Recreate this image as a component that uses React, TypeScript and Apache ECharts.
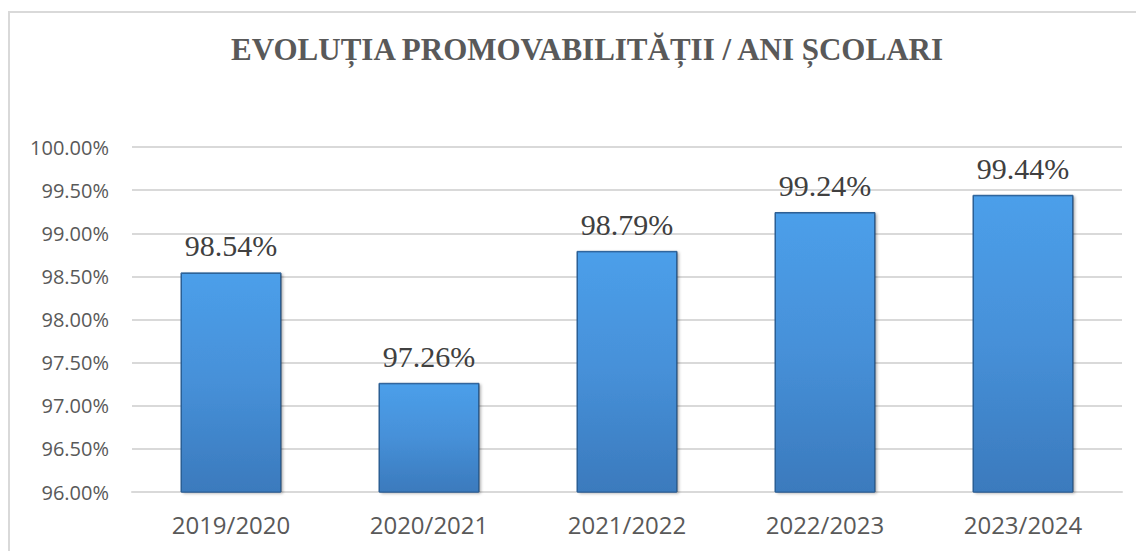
import React, { useEffect, useRef } from "react";
import * as echarts from "echarts";

const categories = ["2019/2020", "2020/2021", "2021/2022", "2022/2023", "2023/2024"];
const values = [98.54, 97.26, 98.79, 99.24, 99.44];
const titleText = "EVOLUȚIA PROMOVABILITĂȚII / ANI ȘCOLARI";
const axisMin = 96;
const axisMax = 100;

export default function App() {
  const ref = useRef<HTMLDivElement>(null);
  useEffect(() => {
    if (!ref.current) return;
    const chart = echarts.init(ref.current, null, { renderer: "svg" });
    const barW = 100;
    const bev = 6;
    chart.setOption({
      animation: false,
      backgroundColor: "#ffffff",
      title: {
        text: titleText,
        left: 582,
        textAlign: "center",
        top: 29,
        textStyle: {
          fontFamily: "Liberation Serif",
          fontWeight: "bold",
          fontSize: 31,
          color: "#595959",
        },
      },
      graphic: [
        {
          type: "rect",
          shape: { x: 9, y: 12, width: 1300, height: 700 },
          style: { fill: "none", stroke: "#d9d9d9", lineWidth: 2 },
          silent: true,
        },
      ],
      grid: { left: 132, right: 14, top: 147, bottom: 59 },
      xAxis: {
        type: "category",
        data: categories,
        axisLine: { lineStyle: { color: "#d9d9d9", width: 2 } },
        axisTick: { show: false },
        axisLabel: {
          margin: 20,
          fontFamily: "Open Sans",
          fontSize: 24,
          color: "#595959",
        },
      },
      yAxis: {
        type: "value",
        min: axisMin,
        max: axisMax,
        interval: 0.5,
        axisLine: { show: false },
        axisTick: { show: false },
        splitLine: { lineStyle: { color: "#d9d9d9", width: 2 } },
        axisLabel: {
          margin: 23,
          fontFamily: "Open Sans",
          fontSize: 20,
          color: "#595959",
          formatter: (v: number) => v.toFixed(2) + "%",
        },
      },
      series: [
        {
          type: "bar",
          data: values,
          barWidth: barW,
          itemStyle: {
            color: new echarts.graphic.LinearGradient(0, 0, 0, 1, [
              { offset: 0, color: "#4c9fea" },
              { offset: 0.5, color: "#4690d8" },
              { offset: 1, color: "#3b7abd" },
            ]),
            borderColor: "#2c5f95",
            borderWidth: 1,
            shadowColor: "rgba(0,0,0,0.3)",
            shadowBlur: 3,
            shadowOffsetX: 2,
            shadowOffsetY: 1,
          },
          label: {
            show: true,
            position: "top",
            distance: 12,
            fontFamily: "Liberation Serif",
            fontSize: 30,
            color: "#404040",
            formatter: (p: any) => p.value.toFixed(2) + "%",
          },
        },
        {
          type: "custom",
          silent: true,
          data: values.map((v, i) => [i, v]),
          renderItem: (params: any, api: any) => {
            const top = api.coord([api.value(0), api.value(1)]);
            const base = api.coord([api.value(0), axisMin]);
            const x0 = top[0] - barW / 2;
            const x1 = top[0] + barW / 2;
            const y0 = top[1];
            const y1 = base[1];
            return {
              type: "group",
              children: [
                {
                  type: "polygon",
                  shape: { points: [[x0, y0], [x1, y0], [x1 - bev, y0 + bev], [x0 + bev, y0 + bev]] },
                  style: { fill: "#6db8f5" },
                },
                {
                  type: "polygon",
                  shape: { points: [[x0, y0], [x0 + bev, y0 + bev], [x0 + bev, y1 - bev], [x0, y1]] },
                  style: { fill: "rgba(120,190,250,0.35)" },
                },
                {
                  type: "polygon",
                  shape: { points: [[x1, y0], [x1 - bev, y0 + bev], [x1 - bev, y1 - bev], [x1, y1]] },
                  style: { fill: "rgba(20,50,90,0.35)" },
                },
                {
                  type: "polygon",
                  shape: { points: [[x0, y1], [x0 + bev, y1 - bev], [x1 - bev, y1 - bev], [x1, y1]] },
                  style: { fill: "rgba(20,50,90,0.3)" },
                },
                {
                  type: "rect",
                  shape: { x: x0, y: y0, width: barW, height: y1 - y0 },
                  style: { fill: "none", stroke: "#2c5f95", lineWidth: 1 },
                },
              ],
            };
          },
        },
      ],
    });
    return () => chart.dispose();
  }, []);
  return (
    <div
      ref={ref}
      style={{ position: "fixed", left: 0, top: 0, width: 1136, height: 551 }}
    />
  );
}
